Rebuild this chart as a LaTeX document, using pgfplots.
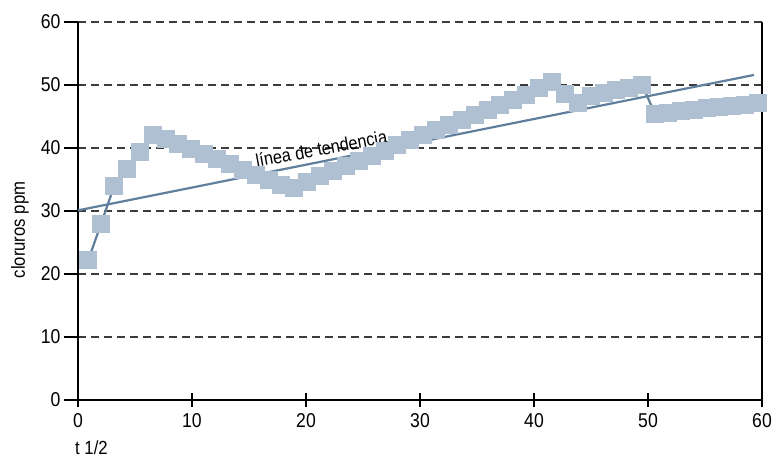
\documentclass[border=0pt]{standalone}
\usepackage{fontspec}
\setmainfont[FakeStretch=0.88]{Liberation Sans}
\usepackage{pgfplots}
\pgfplotsset{compat=1.18}
\definecolor{mk}{RGB}{175,192,211}
\definecolor{ln}{RGB}{95,127,157}
\definecolor{gr}{RGB}{60,60,60}
\pgfplotstableread{
x y
0.90 22.2
2.03 28.0
3.16 33.9
4.29 36.6
5.42 39.3
6.55 42.0
7.68 41.5
8.81 40.7
9.94 39.9
11.07 39.1
12.20 38.3
13.33 37.4
14.46 36.5
15.59 35.7
16.72 34.9
17.85 34.2
18.98 33.6
20.11 34.6
21.24 35.6
22.37 36.4
23.50 37.2
24.63 38.0
25.76 38.8
26.89 39.6
28.02 40.4
29.15 41.2
30.28 42.0
31.41 42.8
32.54 43.6
33.67 44.4
34.80 45.2
35.93 46.0
37.06 46.8
38.19 47.6
39.32 48.4
40.45 49.5
41.58 50.5
42.71 48.6
43.84 47.1
44.97 48.3
46.10 48.8
47.23 49.2
48.36 49.6
49.49 50.0
50.62 45.4
51.75 45.6
52.88 45.8
54.01 46.0
55.14 46.3
56.27 46.5
57.40 46.7
58.53 46.9
59.66 47.1
}\datatable
\begin{document}
\begin{tikzpicture}
\useasboundingbox (-78pt,-60pt) rectangle (705pt,400pt);
\begin{axis}[at={(0,0)}, anchor=south west, scale only axis,
  width=684pt, height=378pt,
  xmin=0, xmax=60, ymin=0, ymax=60,
  xtick={0,10,...,60}, ytick={0,10,...,60},
  axis x line*=bottom, axis y line*=left,
  axis line style={line width=1.3pt, -},
  ymajorgrids,
  grid style={gr, line width=1.1pt, dash pattern=on 8pt off 5pt},
  tick style={black, line width=1.2pt},
  major tick length=14pt,
  xtick align=center, ytick align=outside,
  /pgf/number format/assume math mode=true,
  ticklabel style={font=\fontsize{20}{24}\selectfont},
  xticklabel style={yshift=-3pt},
  clip=false,
]
\addplot[ln, line width=2.2pt, mark=square*, mark size=8.5pt,
  mark options={solid, draw=mk, fill=mk, line width=0pt}] table[x=x, y=y] {\datatable};
\addplot[ln, line width=2.2pt] coordinates {(0,30.1) (59.3,51.6)};
\node[rotate=10.5, anchor=base, inner sep=0pt, font=\fontsize{18.5}{20}\selectfont]
  at (axis cs:21.45,38.86) {línea de tendencia};
\draw[line width=1.3pt] (rel axis cs:1,0) -- (rel axis cs:1,1);
\end{axis}
\node[rotate=90, font=\fontsize{19}{22}\selectfont] at (-58pt,170pt) {cloruros ppm};
\node[anchor=west, inner sep=0pt, font=\fontsize{19}{22}\selectfont] at (-3pt,-48pt) {t 1/2};
\end{tikzpicture}
\end{document}
